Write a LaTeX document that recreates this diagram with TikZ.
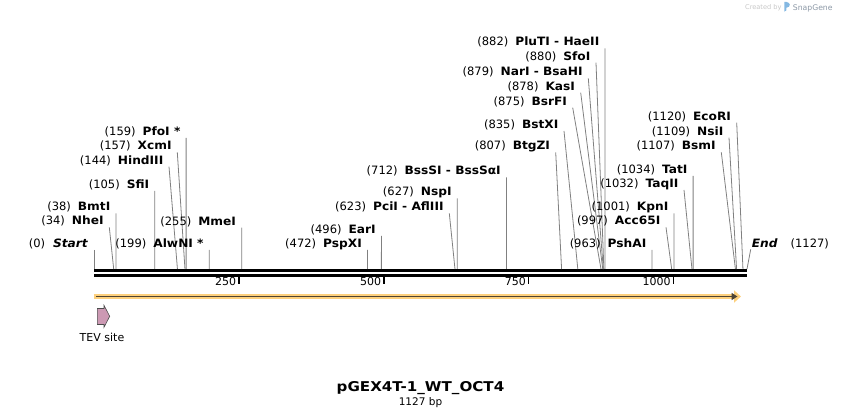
\documentclass[tikz,border=0pt]{standalone}
\usepackage{fontspec}
\setmainfont{DejaVu Sans}
\newfontfamily\namefont{DejaVu Sans}[FakeStretch=1.06]
\newfontfamily\titlefont{DejaVu Sans}[FakeStretch=1.12]
\usepackage{xcolor}
\usepackage{tikz}
\usetikzlibrary{arrows.meta,positioning}

\definecolor{featorange}{RGB}{253,208,125}
\definecolor{featline}{RGB}{78,68,52}
\definecolor{tevpink}{RGB}{204,153,179}
\definecolor{cutgray}{RGB}{128,128,128}
\definecolor{logoblue}{RGB}{132,184,226}
\definecolor{logogray}{RGB}{140,152,166}

\begin{document}
\begin{tikzpicture}[x=1pt,y=-1pt]

\tikzset{sitelabel/.style={anchor=base east, inner sep=0pt, font=\fontsize{11.5}{13}\selectfont},
cutline/.style={cutgray, line width=0.8pt},
%ruler numbers
rulenum/.style={anchor=base east, inner sep=0pt, font=\fontsize{11}{13}\selectfont}}

\useasboundingbox (0,0) rectangle (842,419);

%the sequence line
\draw[line width=3.2pt] (94,270.8) -- (747,270.8);
\draw[line width=3pt] (94,275.4) -- (747,275.4);

\foreach \t in {250,500,750,1000}
  {\coordinate (tick\t) at ({94+\t*0.5794},276);
  \draw[line width=1.7pt] (tick\t) -- ++(0,8);
  \node[rulenum] (num\t) at ([xshift=-2.5pt,yshift=-9.5pt]tick\t) {\t};}

%cut sites
\foreach \p/\name/\sx/\sy in {34/NheI/109.3/227.3, 38/BmtI/116.0/213.3, 105/SfiI/154.8/191.0, 144/HindIII/169.0/166.7, 157/XcmI/177.3/152.3, 159/PfoI */186.1/138.0, 199/AlwNI */209.3/250.0, 255/MmeI/241.7/227.7, 472/PspXI/367.5/250.0, 496/EarI/381.4/236.0, 623/PciI - AflIII/449.3/213.3, 627/NspI/457.3/198.3, 712/BssSI - BssSαI/506.5/177.3, 807/BtgZI/555.7/152.3, 835/BstXI/564.0/131.0, 875/BsrFI/572.7/107.7, 878/KasI/580.7/92.7, 879/NarI - BsaHI/588.3/78.3, 880/SfoI/596.0/62.7, 882/PluTI - HaeII/605.0/48.3, 963/PshAI/652.0/250.0, 997/Acc65I/666.0/227.3, 1001/KpnI/674.0/213.3, 1032/TaqII/684.0/190.0, 1034/TatI/693.1/176.0, 1107/BsmI/721.3/152.3, 1109/NsiI/729.0/137.7, 1120/EcoRI/736.7/122.7}
  {\coordinate (top\p) at (\sx,\sy);
  \coordinate (cut\p) at ({94+\p*0.5794},269);
  \node[sitelabel] (lab\p) at ([xshift=-5.5pt,yshift=2.5pt]top\p) {(\p)\hspace{7pt}{\namefont\bfseries \name}};
  \draw[cutline] (top\p) -- (cut\p);}

%start and end
\coordinate (top0) at (94,250);
\coordinate (cut0) at (94,269);
\node[sitelabel] (lab0) at ([xshift=-6pt,yshift=2pt]top0) {(0)\hspace{8pt}{\namefont\bfseries\itshape Start}};
\draw[cutline] (top0) -- (cut0);

\coordinate (top1127) at (750.7,249.3);
\coordinate (cut1127) at (747,269);
\node[sitelabel, anchor=base west] (lab1127) at ([xshift=1pt,yshift=1.3pt]top1127) {{\namefont\bfseries\itshape End}\hspace{13pt}(1127)};
\draw[cutline] (top1127) -- (cut1127);

%feature arrow
\draw[featorange, line width=5.5pt, -{Triangle[length=7pt,width=12pt]}] (94,296.5) -- (741,296.5);
\draw[featline, line width=1.6pt, -{Triangle[length=6pt,width=7pt]}] (96,296.5) -- (737.5,296.5);

%TEV site
\draw[fill=tevpink, draw=black!70, line width=0.6pt] (97.3,308.5) -- (104,308.5) -- (104,305.3) -- (109.7,316.3) -- (104,327.3) -- (104,324.5) -- (97.3,324.5) -- cycle;
\node[anchor=base, inner sep=0pt, font=\fontsize{11}{13}\selectfont] (tev) at (102,341.5) {TEV site};

%title
\node[anchor=base, inner sep=0pt, font=\titlefont\bfseries\fontsize{13.5}{16}\selectfont] (title) at (420.5,391.5) {pGEX4T-1\_WT\_OCT4};
\node[anchor=base, inner sep=0pt, font=\fontsize{10.5}{12}\selectfont] (length) at (420.5,405.5) {1127 bp};

%watermark
\node[anchor=base west, inner sep=0pt, text=black!22, font=\fontsize{6.6}{8}\selectfont] (made) at (745,10) {Created by};
\fill[logoblue] (784.3,1.8) -- (784.3,11.7) -- (786.3,10.4) -- (786.3,7.8) .. controls (791,7.2) and (791,2.4) .. (786,1.8) -- cycle;
\node[anchor=base west, inner sep=0pt, text=logogray, font=\fontsize{7.7}{9}\selectfont] (snap) at (792.7,10.2) {SnapGene};

\end{tikzpicture}
\end{document}
